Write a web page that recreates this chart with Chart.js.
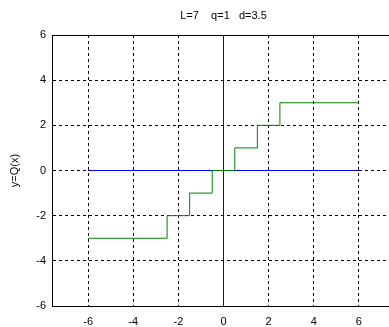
<!DOCTYPE html>
<html>
<head>
<meta charset="utf-8">
<script src="https://cdn.jsdelivr.net/npm/chart.js@4/dist/chart.umd.min.js"></script>
<style>
  html, body { margin: 0; padding: 0; background: #fff; overflow: hidden; }
  #wrap { width: 389px; height: 327px; overflow: hidden; }
</style>
</head>
<body>
<div id="wrap"><canvas id="quantChart" width="395" height="327"></canvas></div>
<script>
// quantizer staircase: L=7 levels, step q=1
const stepX = [-6, -2.5, -1.5, -0.5, 0.5, 1.5, 2.5, 6];
const stepY = [-3, -2, -1, 0, 1, 2, 3, 3];
// blue reference axes
const axisHX = [-6, 6];
const axisHY = [0, 0];
const axisVX = [0, 0];
const axisVY = [-6, 6];
const xTicks = [-6, -4, -2, 0, 2, 4, 6];
const yTicks = [-6, -4, -2, 0, 2, 4, 6];

const toPoints = (xs, ys) => xs.map((x, i) => ({ x: x, y: ys[i] }));

// top edge of the plot box
const frameTop = {
    id: 'frameTop',
    afterDatasetsDraw(chart) {
        const a = chart.chartArea;
        const c = chart.ctx;
        c.save();
        c.strokeStyle = '#000';
        c.lineWidth = 1;
        c.beginPath();
        c.moveTo(a.left, Math.round(a.top) + 0.5);
        c.lineTo(a.right, Math.round(a.top) + 0.5);
        c.stroke();
        c.restore();
    }
};

const font = { family: 'Liberation Sans, Arial', size: 11 };

const ctx = document.getElementById('quantChart').getContext('2d');
new Chart(ctx, {
    type: 'scatter',
    data: {
        datasets: [{
            data: toPoints(stepX, stepY),
            showLine: true,
            stepped: 'before',
            borderColor: '#008000',
            borderWidth: 1,
            pointRadius: 0
        }, {
            data: toPoints(axisHX, axisHY),
            showLine: true,
            borderColor: '#0000ff',
            borderWidth: 1,
            pointRadius: 0
        }, {
            data: toPoints(axisVX, axisVY),
            showLine: true,
            borderColor: '#0000ff',
            borderWidth: 1,
            pointRadius: 0
        }]
    },
    options: {
        responsive: false,
        animation: false,
        layout: { padding: { left: 8 } },
        plugins: {
            legend: { display: false },
            tooltip: { enabled: false },
            title: {
                display: true,
                fullSize: false,
                text: 'L=7    q=1   d=3.5',
                color: '#000',
                font: { family: 'Liberation Sans, Arial', size: 11, weight: 'normal' },
                padding: { top: 9, bottom: 12.8 }
            }
        },
        scales: {
            x: {
                type: 'linear',
                min: -7.6,
                max: 7.6,
                afterBuildTicks: s => { s.ticks = xTicks.map(v => ({ value: v })); },
                afterFit: s => { s.height = 21; },
                grid: { color: c => c.tick && c.tick.value === 0 ? 'rgba(0,0,0,0)' : '#000', drawTicks: false },
                border: { display: true, color: '#000', dash: [3, 3] },
                ticks: { color: '#000', padding: 9, maxRotation: 0, font: font }
            },
            y: {
                type: 'linear',
                min: -6,
                max: 6,
                afterBuildTicks: s => { s.ticks = yTicks.map(v => ({ value: v })); },
                afterFit: s => { s.width = 44; },
                grid: { color: '#000', drawTicks: false },
                border: { display: true, color: '#000', dash: [3, 3] },
                title: {
                    display: true,
                    text: 'y=Q(x)',
                    color: '#000',
                    padding: { top: 0, bottom: 4 },
                    font: font
                },
                ticks: { color: '#000', padding: 6, font: font }
            }
        }
    },
    plugins: [frameTop]
});
</script>
</body>
</html>
